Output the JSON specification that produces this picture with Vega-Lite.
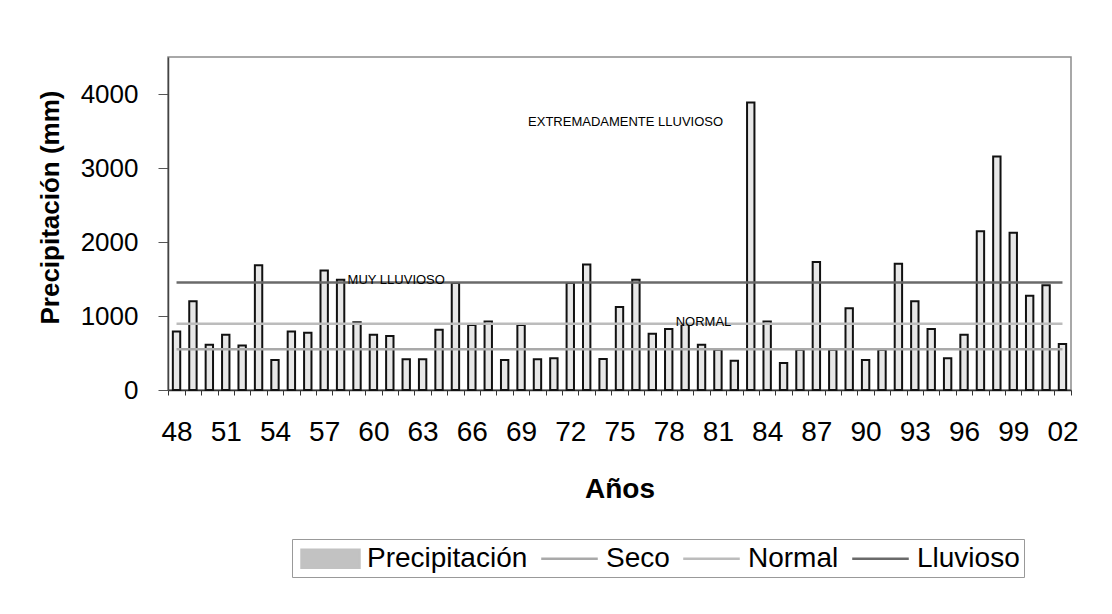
{
  "$schema": "https://vega.github.io/schema/vega-lite/v6.json",
  "width": 903,
  "height": 333,
  "autosize": {"type": "none"},
  "padding": {"left": 168, "top": 57, "right": 41, "bottom": 224},
  "background": "white",
  "config": {
    "font": "Liberation Sans",
    "view": {"stroke": "#8c8c8c", "strokeWidth": 1.5},
    "axisY": {"labelOverlap": false, "labelBound": false, "labelSeparation": -20},
    "axisQuantitative": {"labelOverlap": false}
  },
  "datasets": {
    "lluvia": [
      {"a": "48", "P": 790, "Seco": 551, "Normal": 895, "Lluvioso": 1453},
      {"a": "49", "P": 1200, "Seco": 551, "Normal": 895, "Lluvioso": 1453},
      {"a": "50", "P": 610, "Seco": 551, "Normal": 895, "Lluvioso": 1453},
      {"a": "51", "P": 745, "Seco": 551, "Normal": 895, "Lluvioso": 1453},
      {"a": "52", "P": 600, "Seco": 551, "Normal": 895, "Lluvioso": 1453},
      {"a": "53", "P": 1685, "Seco": 551, "Normal": 895, "Lluvioso": 1453},
      {"a": "54", "P": 405, "Seco": 551, "Normal": 895, "Lluvioso": 1453},
      {"a": "55", "P": 790, "Seco": 551, "Normal": 895, "Lluvioso": 1453},
      {"a": "56", "P": 775, "Seco": 551, "Normal": 895, "Lluvioso": 1453},
      {"a": "57", "P": 1615, "Seco": 551, "Normal": 895, "Lluvioso": 1453},
      {"a": "58", "P": 1490, "Seco": 551, "Normal": 895, "Lluvioso": 1453},
      {"a": "59", "P": 915, "Seco": 551, "Normal": 895, "Lluvioso": 1453},
      {"a": "60", "P": 745, "Seco": 551, "Normal": 895, "Lluvioso": 1453},
      {"a": "61", "P": 730, "Seco": 551, "Normal": 895, "Lluvioso": 1453},
      {"a": "62", "P": 415, "Seco": 551, "Normal": 895, "Lluvioso": 1453},
      {"a": "63", "P": 415, "Seco": 551, "Normal": 895, "Lluvioso": 1453},
      {"a": "64", "P": 815, "Seco": 551, "Normal": 895, "Lluvioso": 1453},
      {"a": "65", "P": 1445, "Seco": 551, "Normal": 895, "Lluvioso": 1453},
      {"a": "66", "P": 880, "Seco": 551, "Normal": 895, "Lluvioso": 1453},
      {"a": "67", "P": 925, "Seco": 551, "Normal": 895, "Lluvioso": 1453},
      {"a": "68", "P": 405, "Seco": 551, "Normal": 895, "Lluvioso": 1453},
      {"a": "69", "P": 880, "Seco": 551, "Normal": 895, "Lluvioso": 1453},
      {"a": "70", "P": 415, "Seco": 551, "Normal": 895, "Lluvioso": 1453},
      {"a": "71", "P": 430, "Seco": 551, "Normal": 895, "Lluvioso": 1453},
      {"a": "72", "P": 1445, "Seco": 551, "Normal": 895, "Lluvioso": 1453},
      {"a": "73", "P": 1695, "Seco": 551, "Normal": 895, "Lluvioso": 1453},
      {"a": "74", "P": 420, "Seco": 551, "Normal": 895, "Lluvioso": 1453},
      {"a": "75", "P": 1120, "Seco": 551, "Normal": 895, "Lluvioso": 1453},
      {"a": "76", "P": 1490, "Seco": 551, "Normal": 895, "Lluvioso": 1453},
      {"a": "77", "P": 760, "Seco": 551, "Normal": 895, "Lluvioso": 1453},
      {"a": "78", "P": 825, "Seco": 551, "Normal": 895, "Lluvioso": 1453},
      {"a": "79", "P": 890, "Seco": 551, "Normal": 895, "Lluvioso": 1453},
      {"a": "80", "P": 610, "Seco": 551, "Normal": 895, "Lluvioso": 1453},
      {"a": "81", "P": 545, "Seco": 551, "Normal": 895, "Lluvioso": 1453},
      {"a": "82", "P": 395, "Seco": 551, "Normal": 895, "Lluvioso": 1453},
      {"a": "83", "P": 3885, "Seco": 551, "Normal": 895, "Lluvioso": 1453},
      {"a": "84", "P": 925, "Seco": 551, "Normal": 895, "Lluvioso": 1453},
      {"a": "85", "P": 365, "Seco": 551, "Normal": 895, "Lluvioso": 1453},
      {"a": "86", "P": 545, "Seco": 551, "Normal": 895, "Lluvioso": 1453},
      {"a": "87", "P": 1730, "Seco": 551, "Normal": 895, "Lluvioso": 1453},
      {"a": "88", "P": 545, "Seco": 551, "Normal": 895, "Lluvioso": 1453},
      {"a": "89", "P": 1105, "Seco": 551, "Normal": 895, "Lluvioso": 1453},
      {"a": "90", "P": 405, "Seco": 551, "Normal": 895, "Lluvioso": 1453},
      {"a": "91", "P": 545, "Seco": 551, "Normal": 895, "Lluvioso": 1453},
      {"a": "92", "P": 1705, "Seco": 551, "Normal": 895, "Lluvioso": 1453},
      {"a": "93", "P": 1200, "Seco": 551, "Normal": 895, "Lluvioso": 1453},
      {"a": "94", "P": 825, "Seco": 551, "Normal": 895, "Lluvioso": 1453},
      {"a": "95", "P": 430, "Seco": 551, "Normal": 895, "Lluvioso": 1453},
      {"a": "96", "P": 745, "Seco": 551, "Normal": 895, "Lluvioso": 1453},
      {"a": "97", "P": 2145, "Seco": 551, "Normal": 895, "Lluvioso": 1453},
      {"a": "98", "P": 3155, "Seco": 551, "Normal": 895, "Lluvioso": 1453},
      {"a": "99", "P": 2125, "Seco": 551, "Normal": 895, "Lluvioso": 1453},
      {"a": "00", "P": 1275, "Seco": 551, "Normal": 895, "Lluvioso": 1453},
      {"a": "01", "P": 1415, "Seco": 551, "Normal": 895, "Lluvioso": 1453},
      {"a": "02", "P": 620, "Seco": 551, "Normal": 895, "Lluvioso": 1453}
    ],
    "notas": [
      {"texto": "MUY LLUVIOSO", "a": "58", "v": 1490},
      {"texto": "EXTREMADAMENTE LLUVIOSO", "a": "69", "v": 3625},
      {"texto": "NORMAL", "a": "78", "v": 913}
    ]
  },
  "encoding": {
    "x": {
      "field": "a",
      "type": "nominal",
      "sort": null,
      "scale": {
        "domain": ["48","49","50","51","52","53","54","55","56","57","58","59","60","61","62","63","64","65","66","67","68","69","70","71","72","73","74","75","76","77","78","79","80","81","82","83","84","85","86","87","88","89","90","91","92","93","94","95","96","97","98","99","00","01","02"],
        "paddingInner": 0,
        "paddingOuter": 0.02
      },
      "axis": {
        "title": "Años",
        "titleFont": "Liberation Sans",
        "titleFontSize": 28,
        "titleFontWeight": "bold",
        "titleColor": "#000",
        "titlePadding": 29,
        "labelAngle": 0,
        "labelFontSize": 28,
        "labelColor": "#000",
        "labelPadding": 23,
        "labelExpr": "indexof(['48','51','54','57','60','63','66','69','72','75','78','81','84','87','90','93','96','99','02'], datum.value) >= 0 ? datum.value : ''",
        "tickBand": "extent",
        "tickSize": 5,
        "tickColor": "#333",
        "domainColor": "#333",
        "domainWidth": 1.5,
        "grid": false
      }
    }
  },
  "layer": [
    {
      "data": {"name": "lluvia"},
      "mark": {"type": "bar", "width": {"band": 0.45}, "stroke": "#111", "strokeWidth": 2, "fillOpacity": 0.4},
      "encoding": {
        "y": {
          "field": "P",
          "type": "quantitative",
          "scale": {"domain": [0, 4500], "nice": false},
          "axis": {
            "title": "Precipitación (mm)",
            "titleFontSize": 26,
            "titleFontWeight": "bold",
            "titleColor": "#000",
            "titlePadding": 17,
            "titleY": 150,
            "values": [0,500,1000,1500,2000,2500,3000,3500,4000,4500],
            "tickCount": 9,
            "format": "d",
            "labelOverlap": false,
            "labelSeparation": -20,
            "labelFontSize": 26,
            "labelColor": "#000",
            "labelPadding": 20,
            "tickSize": 10,
            "tickColor": "#555",
            "domainColor": "#444",
            "domainWidth": 1.5,
            "grid": false
          }
        },
        "color": {"datum": "Precipitación", "type": "nominal"}
      }
    },
    {
      "data": {"name": "lluvia"},
      "transform": [{"fold": ["Seco", "Normal", "Lluvioso"], "as": ["serie", "valor"]}],
      "mark": {"type": "line", "strokeWidth": 2.5},
      "encoding": {
        "y": {
          "field": "valor",
          "type": "quantitative",
          "axis": {
            "title": "Precipitación (mm)",
            "titleFontSize": 26,
            "titleFontWeight": "bold",
            "titleColor": "#000",
            "titlePadding": 17,
            "titleY": 150,
            "values": [0,500,1000,1500,2000,2500,3000,3500,4000,4500],
            "tickCount": 9,
            "format": "d",
            "labelOverlap": false,
            "labelSeparation": -20,
            "labelFontSize": 26,
            "labelColor": "#000",
            "labelPadding": 20,
            "tickSize": 10,
            "tickColor": "#555",
            "domainColor": "#444",
            "domainWidth": 1.5,
            "grid": false
          }
        },
        "color": {
          "field": "serie",
          "type": "nominal",
          "scale": {
            "domain": ["Precipitación", "Seco", "Normal", "Lluvioso"],
            "range": ["#c2c2c2", "#a9a9a9", "#bcbcbc", "#6a6a6a"]
          },
          "legend": {
            "title": null,
            "orient": "none",
            "legendX": 124,
            "legendY": 482,
            "direction": "horizontal",
            "columns": 4,
            "columnPadding": 7,
            "labelFontSize": 28,
            "labelColor": "#000",
            "labelLimit": 400,
            "labelOffset": 21,
            "symbolOffset": 19,
            "symbolSize": 784,
            "symbolStrokeWidth": 2.5,
            "padding": 4,
            "strokeColor": "#999",
            "fillColor": "white",
            "encode": {
              "symbols": {
                "update": {
                  "shape": {"signal": "datum.value === 'Precipitación' ? 'M-2.07,-0.64H2.07V0.64H-2.07Z' : 'M-2.02,0H2.02'"}
                }
              }
            }
          }
        }
      }
    },
    {
      "data": {"name": "notas"},
      "mark": {"type": "text", "align": "left", "baseline": "middle", "fontSize": 13, "color": "#000", "dx": 7},
      "encoding": {
        "y": {
          "field": "v",
          "type": "quantitative",
          "axis": {
            "title": "Precipitación (mm)",
            "titleFontSize": 26,
            "titleFontWeight": "bold",
            "titleColor": "#000",
            "titlePadding": 17,
            "titleY": 150,
            "values": [0,500,1000,1500,2000,2500,3000,3500,4000,4500],
            "tickCount": 9,
            "format": "d",
            "labelOverlap": false,
            "labelSeparation": -20,
            "labelFontSize": 26,
            "labelColor": "#000",
            "labelPadding": 20,
            "tickSize": 10,
            "tickColor": "#555",
            "domainColor": "#444",
            "domainWidth": 1.5,
            "grid": false
          }
        },
        "text": {"field": "texto"}
      }
    }
  ]
}
